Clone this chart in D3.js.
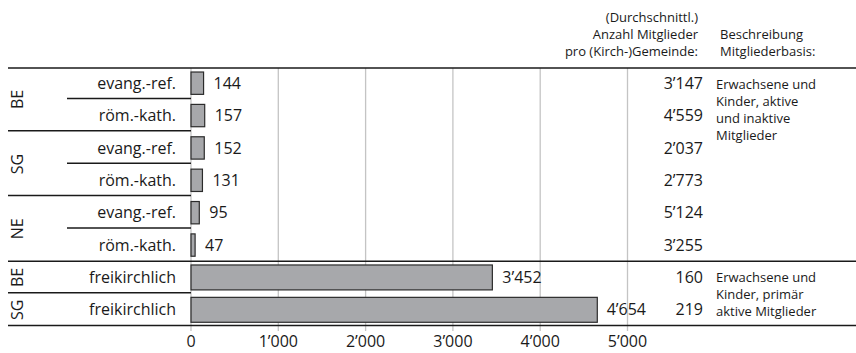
<!DOCTYPE html>
<html>
<head>
<meta charset="utf-8">
<script src="https://cdn.jsdelivr.net/npm/d3@7"></script>
<style>
  html, body { margin: 0; padding: 0; background: #fff; }
  svg { display: block; font-family: "Open Sans", "Noto Sans", sans-serif; }
</style>
</head>
<body>
<svg id="chart" width="856" height="353"></svg>
<script>
// Congregations per canton and denomination, with average membership
const regions = ["BE", "BE", "SG", "SG", "NE", "NE", "BE", "SG"];
const denominations = ["evang.-ref.", "röm.-kath.", "evang.-ref.", "röm.-kath.",
                       "evang.-ref.", "röm.-kath.", "freikirchlich", "freikirchlich"];
const congregations = [144, 157, 152, 131, 95, 47, 3452, 4654];
const avgMembers = [3147, 4559, 2037, 2773, 5124, 3255, 160, 219];
const xTicks = [0, 1000, 2000, 3000, 4000, 5000];
const headerCount = ["(Durchschnittl.)", "Anzahl Mitglieder", "pro (Kirch-)Gemeinde:"];
const headerDesc = ["Beschreibung", "Mitgliederbasis:"];
const descLandeskirchen = ["Erwachsene und", "Kinder, aktive", "und inaktive", "Mitglieder"];
const descFreikirchen = ["Erwachsene und", "Kinder, primär", "aktive Mitglieder"];

const locale = d3.formatLocale({ decimal: ".", thousands: "\u2019", grouping: [3], currency: ["", ""] });
const fmt = locale.format(",");

const svg = d3.select("#chart");
const rows = d3.range(congregations.length);

const x = d3.scaleLinear().domain([0, 5000]).range([191, 627.5]);
const y = d3.scaleBand().domain(rows).range([66, 325]);
const bw = y.bandwidth();
const isFree = i => denominations[i] === "freikirchlich";

// Grid lines and zero line
svg.append("g")
  .selectAll("line")
  .data(xTicks)
  .join("line")
  .attr("x1", d => x(d)).attr("x2", d => x(d))
  .attr("y1", 68).attr("y2", 331)
  .attr("stroke", "#c4c4c4")
  .attr("stroke-width", 1.3);

// Tick labels
svg.append("g")
  .selectAll("text")
  .data(xTicks)
  .join("text")
  .attr("x", d => x(d))
  .attr("y", 347)
  .attr("text-anchor", "middle")
  .attr("font-size", 16)
  .attr("fill", "#1a1a1a")
  .text(d => fmt(d));

// Bars
svg.append("g")
  .selectAll("rect")
  .data(rows)
  .join("rect")
  .attr("x", x(0))
  .attr("width", i => x(congregations[i]) - x(0))
  .attr("y", i => {
    const h = isFree(i) ? bw * 0.77 : bw * 0.69;
    return y(i) + (bw - h) / 2 + 1;
  })
  .attr("height", i => isFree(i) ? bw * 0.77 : bw * 0.69)
  .attr("fill", "#a7a8ab")
  .attr("stroke", "#2b2b2b")
  .attr("stroke-width", 1.2);

// Bar value labels, kept clear of the membership column
const labelLimit = 646;
svg.append("g")
  .selectAll("text")
  .data(rows)
  .join("text")
  .attr("y", i => y(i) + bw / 2 + 1)
  .attr("dy", "0.35em")
  .attr("font-size", 16)
  .attr("fill", "#1a1a1a")
  .text(i => fmt(congregations[i]))
  .attr("x", function (i) {
    const w = this.getComputedTextLength();
    return Math.min(x(congregations[i]) + 10, labelLimit - w);
  });

// Denomination labels
svg.append("g")
  .selectAll("text")
  .data(rows)
  .join("text")
  .attr("x", 176)
  .attr("y", i => y(i) + bw / 2 + 1)
  .attr("dy", "0.35em")
  .attr("text-anchor", "end")
  .attr("font-size", 16)
  .attr("fill", "#1a1a1a")
  .text(i => denominations[i]);

// Canton groups: consecutive rows with the same canton and section
const groups = [];
rows.forEach(i => {
  const last = groups[groups.length - 1];
  if (last && last.region === regions[i] && isFree(last.start) === isFree(i)) last.end = i;
  else groups.push({ region: regions[i], start: i, end: i });
});

svg.append("g")
  .selectAll("text")
  .data(groups)
  .join("text")
  .attr("transform", g => {
    const cy = (y(g.start) + y(g.end) + bw) / 2 + 1;
    return `translate(17,${cy}) rotate(-90)`;
  })
  .attr("dy", "0.35em")
  .attr("text-anchor", "middle")
  .attr("font-size", 16)
  .attr("fill", "#1a1a1a")
  .text(g => g.region);

// Separators: within groups (short), between groups, and full-width rules
const rules = svg.append("g").attr("stroke", "#1a1a1a").attr("stroke-width", 1.5);
groups.forEach((g, gi) => {
  for (let i = g.start + 1; i <= g.end; i++) {
    rules.append("line").attr("x1", 67).attr("x2", x(0)).attr("y1", y(i)).attr("y2", y(i));
  }
  if (gi > 0) {
    const full = isFree(g.start) && !isFree(groups[gi - 1].start);
    const yy = full ? y(g.start) + 1 : y(g.start);
    rules.append("line").attr("x1", 8).attr("x2", full ? 856 : x(0)).attr("y1", yy).attr("y2", yy);
  }
});
rules.append("line").attr("x1", 8).attr("x2", 856).attr("y1", 68).attr("y2", 68);
rules.append("line").attr("x1", 8).attr("x2", 856).attr("y1", 325.5).attr("y2", 325.5);

// Membership column
svg.append("g")
  .selectAll("text")
  .data(rows)
  .join("text")
  .attr("x", 703)
  .attr("y", i => y(i) + bw / 2 + 1)
  .attr("dy", "0.35em")
  .attr("text-anchor", "end")
  .attr("font-size", 16)
  .attr("fill", "#1a1a1a")
  .text(i => fmt(avgMembers[i]));

// Column headers
svg.append("g")
  .selectAll("text")
  .data(headerCount)
  .join("text")
  .attr("x", 698)
  .attr("y", (d, k) => 22 + k * 17)
  .attr("text-anchor", "end")
  .attr("font-size", 13)
  .attr("fill", "#1a1a1a")
  .text(d => d);

svg.append("g")
  .selectAll("text")
  .data(headerDesc)
  .join("text")
  .attr("x", 720)
  .attr("y", (d, k) => 39 + k * 17)
  .attr("text-anchor", "start")
  .attr("font-size", 13)
  .attr("fill", "#1a1a1a")
  .text(d => d);

// Membership basis descriptions
function descBlock(lines, top) {
  svg.append("g")
    .selectAll("text")
    .data(lines)
    .join("text")
    .attr("x", 716)
    .attr("y", (d, k) => top + k * 17)
    .attr("font-size", 13)
    .attr("fill", "#1a1a1a")
    .text(d => d);
}
descBlock(descLandeskirchen, 89);
descBlock(descFreikirchen, 282);
</script>
</body>
</html>
